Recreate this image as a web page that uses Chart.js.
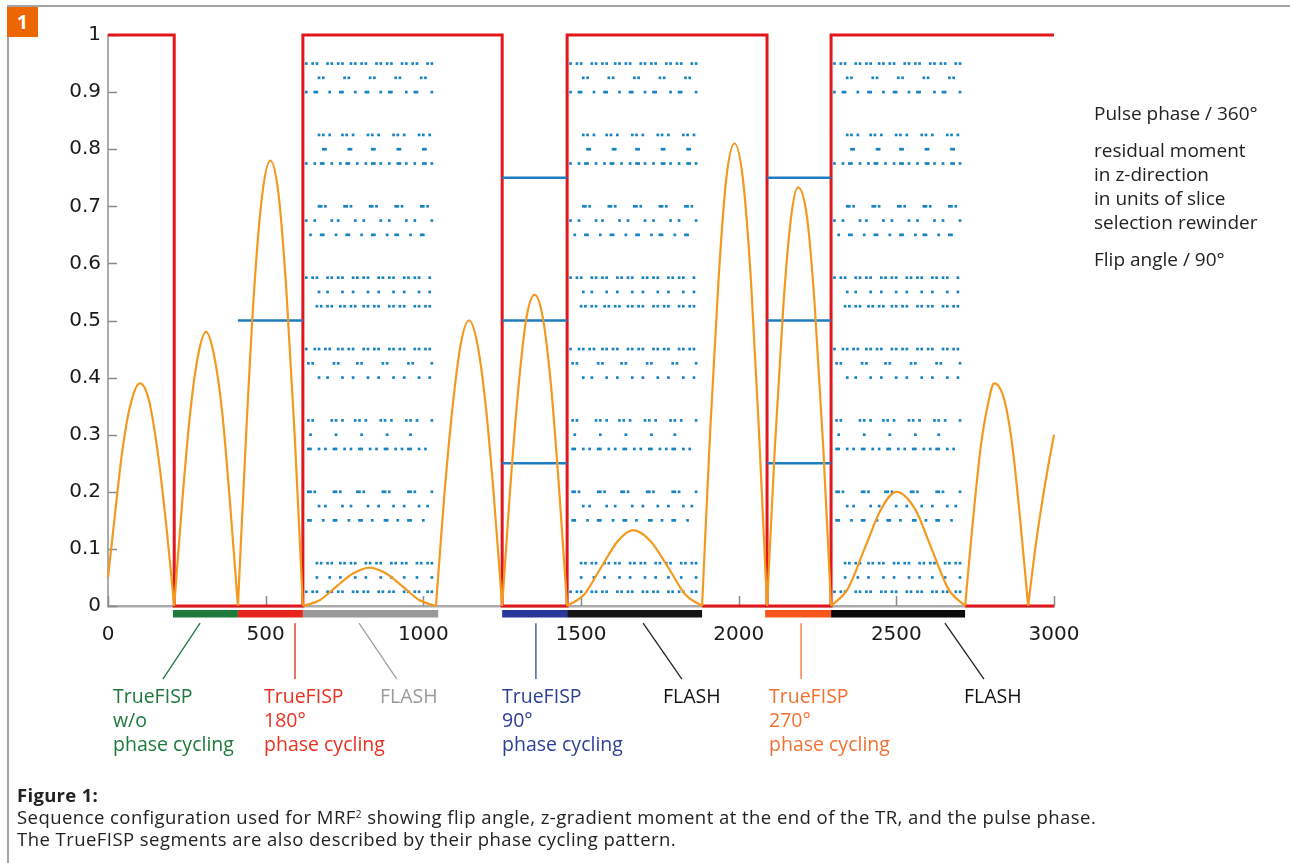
<!DOCTYPE html>
<html><head><meta charset="utf-8">
<script src="https://cdn.jsdelivr.net/npm/chart.js@4.4.1/dist/chart.umd.min.js"></script>
<style>
html,body{margin:0;padding:0;background:#fff;}
body{width:1290px;height:863px;position:relative;overflow:hidden;font-family:"Open Sans",sans-serif;color:#222;}
#frame{position:absolute;left:7px;top:5px;width:1290px;height:870px;border-left:2px solid #a3a3a3;border-top:2px solid #a3a3a3;}
#badge{position:absolute;left:7px;top:7px;width:31px;height:30px;background:#ec6602;color:#fff;font:bold 19px "Open Sans",sans-serif;text-align:center;line-height:30px;}
#chart{position:absolute;left:0;top:0;}
.lbl{position:absolute;font-size:19.5px;line-height:24px;white-space:nowrap;}
.leg{position:absolute;left:1094px;font-size:19px;line-height:24px;white-space:nowrap;color:#222;}
#cap{position:absolute;left:17px;top:784px;font-size:18.5px;letter-spacing:0.45px;line-height:22px;color:#222;white-space:nowrap;}
#cap b{font-weight:700;letter-spacing:0.3px;}
</style></head>
<body>
<div id="frame"></div>
<div id="badge">1</div>
<canvas id="chart" width="1290" height="863"></canvas>

<div class="leg" style="top:101px">Pulse phase / 360°</div>
<div class="leg" style="top:138px">residual moment<br>in z-direction<br>in units of slice<br>selection rewinder</div>
<div class="leg" style="top:247px">Flip angle / 90°</div>

<div class="lbl" style="left:113px;top:684px;color:#1d7a3a">TrueFISP<br>w/o<br>phase cycling</div>
<div class="lbl" style="left:264px;top:684px;color:#e8321e">TrueFISP<br>180°<br>phase cycling</div>
<div class="lbl" style="left:380px;top:684px;color:#9a9a9a">FLASH</div>
<div class="lbl" style="left:502px;top:684px;color:#2c3f98">TrueFISP<br>90°<br>phase cycling</div>
<div class="lbl" style="left:663px;top:684px;color:#111">FLASH</div>
<div class="lbl" style="left:769px;top:684px;color:#f27131">TrueFISP<br>270°<br>phase cycling</div>
<div class="lbl" style="left:964px;top:684px;color:#111">FLASH</div>

<div id="cap"><b>Figure 1:</b><br>Sequence configuration used for MRF<sup style="font-size:10px;vertical-align:6px;line-height:0">2</sup> showing flip angle, z-gradient moment at the end of the TR, and the pulse phase.<br>The TrueFISP segments are also described by their phase cycling pattern.</div>

<script>
// ---------- data ----------
const xTicks = [0, 500, 1000, 1500, 2000, 2500, 3000];
const yTicks = [0, 0.1, 0.2, 0.3, 0.4, 0.5, 0.6, 0.7, 0.8, 0.9, 1];

// pulse phase / 360 (step line)
const phaseX = [0, 210, 618, 1250, 1456, 2090, 2293, 3000];
const phaseY = [1, 0, 1, 0, 1, 0, 1, 1];
// pulse phase at zero in other spans
const phaseZeroStart = [1884, 2718];
const phaseZeroEnd   = [2090, 3000];

// residual moment in z
const momentStart = [412, 1250, 1250, 1250, 2090, 2090, 2090];
const momentEnd   = [618, 1456, 1456, 1456, 2293, 2293, 2293];
const momentY     = [0.5, 0.75, 0.5, 0.25, 0.75, 0.5, 0.25];

// flip angle / 90 (one array per arch)
const flipArchX = [
  [0, 20, 45, 70, 101, 130, 160, 185, 210],
  [210, 235, 261, 286, 311, 336, 362, 387, 412],
  [412, 438, 463, 489, 515, 541, 566, 592, 618],
  [618, 671, 724, 777, 830, 882, 935, 988, 1040],
  [1040, 1066, 1093, 1119, 1145, 1171, 1198, 1224, 1250],
  [1250, 1276, 1302, 1327, 1353, 1379, 1405, 1430, 1456],
  [1456, 1510, 1563, 1617, 1665, 1720, 1777, 1831, 1884],
  [1884, 1910, 1936, 1961, 1987, 2013, 2039, 2064, 2090],
  [2090, 2115, 2141, 2166, 2188, 2217, 2242, 2268, 2293],
  [2293, 2346, 2399, 2452, 2500, 2559, 2612, 2665, 2718],
  [2718, 2743, 2768, 2793, 2810, 2843, 2868, 2893, 2918],
  [2918, 2938, 2959, 2980, 3000]
];
const flipArchY = [
  [0.05, 0.15, 0.27, 0.35, 0.39, 0.36, 0.26, 0.14, 0],
  [0, 0.18, 0.34, 0.44, 0.48, 0.44, 0.34, 0.18, 0],
  [0, 0.30, 0.55, 0.72, 0.78, 0.72, 0.55, 0.30, 0],
  [0, 0.01, 0.034, 0.057, 0.067, 0.057, 0.034, 0.01, 0],
  [0, 0.19, 0.35, 0.46, 0.50, 0.46, 0.35, 0.19, 0],
  [0, 0.21, 0.385, 0.505, 0.545, 0.505, 0.385, 0.21, 0],
  [0, 0.02, 0.067, 0.114, 0.133, 0.114, 0.067, 0.02, 0],
  [0, 0.31, 0.57, 0.75, 0.81, 0.75, 0.57, 0.31, 0],
  [0, 0.28, 0.52, 0.68, 0.733, 0.68, 0.52, 0.28, 0],
  [0, 0.03, 0.10, 0.17, 0.20, 0.17, 0.10, 0.03, 0],
  [0, 0.15, 0.28, 0.36, 0.39, 0.36, 0.28, 0.15, 0],
  [0, 0.09, 0.17, 0.24, 0.30]
];

// FLASH pulse phase dots: levels and TR slots (same pattern in each FLASH block)
const flashStart = [618, 1456, 2293];
const dotSlotWidth = 6.75;
const dotLevels = [0.95, 0.925, 0.9, 0.825, 0.8, 0.775, 0.7, 0.675, 0.65, 0.575, 0.55, 0.525,
                   0.45, 0.425, 0.4, 0.325, 0.3, 0.275, 0.2, 0.175, 0.15, 0.075, 0.05, 0.025];
const dotSlots = [
  [1,4,6, 11,13,16,18, 22,24,27,29, 34,36,39,41, 46,48,51,53, 58,60],
  [7,9, 19,21, 31,33, 43,45, 55,57],
  [1, 5,6, 12, 17,18, 24, 29,30, 36, 40,41, 48, 52,53, 60],
  [7,9,12, 18,20,23, 30,32,35, 42,44,47, 54,56,59],
  [9,10, 21,22, 32,33, 44,45, 56,57],
  [1, 5, 8,9, 13, 17, 20,21, 25, 29, 32,33, 36, 40, 44,45, 48, 52, 56,57, 60],
  [7,8,10, 19,20,22, 31,32,34, 43,44,46, 55,56,58],
  [1,5, 13,16, 24,28, 36,40, 48,52, 60],
  [3, 8,9, 15, 20,21, 27, 32,33, 39, 43,44, 50, 55,56],
  [1,4,6, 11,13,16,18, 23,25,28,30, 35,37,40,42, 47,49,52,54, 59],
  [7,11, 18,23, 30,35, 42,47, 54,59],
  [6,8,11,13, 17,19,22,24, 28,30,33,35, 40,42,45,47, 52,54,57,59],
  [1, 5,7,10,12, 16,18,21,23, 28,30,33,35, 40,42,45,47, 52,54,57,59],
  [2,4, 14,16, 25,27, 37,39, 49,51, 60],
  [7,11, 18,23, 30,35, 42,47, 54,59],
  [2,4, 13,15,18, 24,26,29, 36,38,41, 48,50,53, 60],
  [3, 15, 27, 39, 50],
  [2,3,7,10, 14,15,19,22, 26,27,31,34, 38,39,43,46, 49,50,54,57],
  [2,3,5, 14,15,17, 25,26,28, 37,38,40, 49,50,52, 60],
  [7,10, 18,22, 30,35, 42,47, 54,58],
  [2,3, 9, 14,15, 21, 26,27, 32, 38,39, 44, 49,50, 56],
  [6,8,11,13, 17,19,22,24, 29,31,34,36, 41,43,46,48, 53,55,58,60],
  [6, 12, 17, 24, 29, 36, 41, 47, 53, 60],
  [1,4,6, 11,13,16,18, 23,25,28,30, 35,37,40,42, 47,49,52,54, 58,60]
];

// sequence segments under the axis
const segStart = [206, 412, 618, 1250, 1456, 2084, 2293];
const segEnd   = [412, 618, 1047, 1456, 1884, 2293, 2718];
const segColor = ['#1d7a3a', '#e5261d', '#999999', '#29369a', '#151515', '#f5571a', '#0a0a0a'];

// callout leader lines (from bar to label), x in data units
const calloutFromX = [292, 593, 796, 1357, 1697, 2198, 2654];
const calloutToX   = [174, 593, 916, 1357, 1820, 2198, 2778];
const calloutColor = ['#1d7a3a', '#e5261d', '#a0a0a0', '#3a4aa0', '#222222', '#f27131', '#222222'];

// ---------- build datasets ----------
const datasets = [];

const dotData = [];
flashStart.forEach(s => {
  dotLevels.forEach((lv, r) => {
    dotSlots[r].forEach(k => dotData.push({x: s + 4 + k * dotSlotWidth, y: lv}));
  });
});
datasets.push({data: dotData, showLine: false, pointStyle: 'rect', pointRadius: 1.9,
  pointBackgroundColor: '#1783c0', pointBorderWidth: 0, order: 5});

datasets.push({data: phaseX.map((x, i) => ({x, y: phaseY[i]})), stepped: 'before',
  borderColor: '#e3161b', borderWidth: 3, pointRadius: 0, clip: false, order: 3});
phaseZeroStart.forEach((s, i) => {
  datasets.push({data: [{x: s, y: 0}, {x: phaseZeroEnd[i], y: 0}], borderColor: '#e3161b',
    borderWidth: 3, pointRadius: 0, clip: false, order: 3});
});

const mData = [];
momentStart.forEach((s, i) => {
  mData.push({x: s, y: momentY[i]}, {x: momentEnd[i], y: momentY[i]}, {x: momentEnd[i], y: null});
});
datasets.push({data: mData, borderColor: '#1f7cc0', borderWidth: 2.5, pointRadius: 0,
  spanGaps: false, order: 2});

const fData = [];
flipArchX.forEach((xs, a) => {
  xs.forEach((x, j) => fData.push({x, y: flipArchY[a][j]}));
  fData.push({x: xs[xs.length - 1], y: null});
});
datasets.push({data: fData, borderColor: '#f39a1e', borderWidth: 2.2, pointRadius: 0,
  spanGaps: false, cubicInterpolationMode: 'monotone', clip: false, order: 1});

segStart.forEach((s, i) => {
  datasets.push({data: [{x: s, y: -0.0135}, {x: segEnd[i], y: -0.0135}], borderColor: segColor[i],
    borderWidth: 7.5, borderCapStyle: 'butt', pointRadius: 0, clip: false, order: 4});
});
calloutFromX.forEach((s, i) => {
  datasets.push({data: [{x: s, y: -0.03}, {x: calloutToX[i], y: -0.128}], borderColor: calloutColor[i],
    borderWidth: 1.3, pointRadius: 0, clip: false, order: 4});
});

const innerTicks = {
  id: 'innerTicks',
  beforeDatasetsDraw(chart) {
    const {ctx, scales: {x, y}, chartArea: a} = chart;
    ctx.save();
    ctx.strokeStyle = '#8a8a8a';
    ctx.lineWidth = 1.5;
    yTicks.forEach(v => {
      const py = Math.round(y.getPixelForValue(v)) + 0.5;
      ctx.beginPath(); ctx.moveTo(a.left, py); ctx.lineTo(a.left + 9, py); ctx.stroke();
    });
    xTicks.forEach(v => {
      const px = Math.round(x.getPixelForValue(v)) + 0.5;
      ctx.beginPath(); ctx.moveTo(px, a.bottom); ctx.lineTo(px, a.bottom - 10); ctx.stroke();
    });
    ctx.restore();
  }
};

new Chart(document.getElementById('chart'), {
  type: 'line',
  data: {datasets},
  plugins: [innerTicks],
  options: {
    responsive: false, animation: false, devicePixelRatio: 1,
    layout: {padding: {left: 0, top: 35, right: 236, bottom: 217}},
    plugins: {legend: {display: false}, tooltip: {enabled: false}},
    elements: {line: {tension: 0}},
    scales: {
      x: {
        type: 'linear', min: 0, max: 3000,
        afterBuildTicks: s => { s.ticks = xTicks.map(v => ({value: v})); },
        afterFit: s => { s.height = 40; },
        grid: {display: true, drawOnChartArea: false, drawTicks: false},
        border: {display: true, color: '#ababab', width: 2.5},
        ticks: {padding: 17, color: '#1a1a1a', font: {family: 'DejaVu Sans', size: 20},
          maxRotation: 0, callback: v => String(v)}
      },
      y: {
        type: 'linear', min: 0, max: 1,
        afterBuildTicks: s => { s.ticks = yTicks.map(v => ({value: v})); },
        afterFit: s => { s.width = 108; },
        grid: {display: true, drawOnChartArea: false, drawTicks: false},
        border: {display: true, color: '#ababab', width: 2},
        ticks: {padding: 7, color: '#1a1a1a', font: {family: 'DejaVu Sans', size: 20},
          callback: v => String(Math.round(v * 10) / 10)}
      }
    }
  }
});
</script>
</body></html>
